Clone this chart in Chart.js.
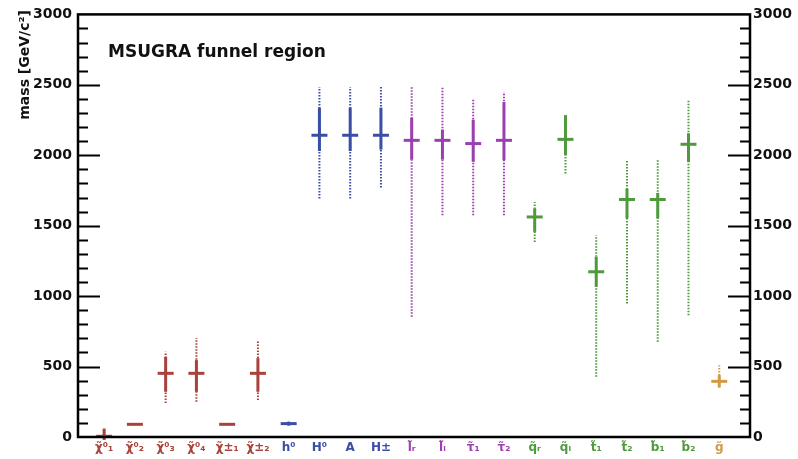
<!DOCTYPE html>
<html><head><meta charset="utf-8">
<script src="https://cdn.jsdelivr.net/npm/chart.js@4/dist/chart.umd.min.js"></script>
<style>html,body{margin:0;padding:0;background:#fff}#wrap{width:798px;height:459px;position:relative}</style>
</head><body><div id="wrap"><canvas id="c" width="798" height="459"></canvas></div>
<script>
// ---- data ----
const particles = ['χ̃⁰₁','χ̃⁰₂','χ̃⁰₃','χ̃⁰₄','χ̃±₁','χ̃±₂','h⁰','H⁰','A','H±','l̃ᵣ','l̃ₗ','τ̃₁','τ̃₂','q̃ᵣ','q̃ₗ','t̃₁','t̃₂','b̃₁','b̃₂','g̃'];
const groups = ['chi','chi','chi','chi','chi','chi','higgs','higgs','higgs','higgs','slep','slep','slep','slep','sq','sq','sq','sq','sq','sq','glu'];
const massCentral = [5, 90, 452, 452, 90, 452, 95, 2142, 2142, 2142, 2106, 2106, 2083, 2106, 1562, 2113, 1173, 1686, 1686, 2078, 395];
const innerLow    = [-20, 88, 321, 321, 88, 321, 82, 2030, 2030, 2040, 1969, 1969, 1953, 1965, 1456, 2000, 1066, 1551, 1551, 1953, 352];
const innerHigh   = [60, 92, 569, 546, 92, 560, 108, 2338, 2338, 2338, 2267, 2182, 2253, 2378, 1622, 2284, 1279, 1764, 1733, 2156, 440];
const outerLow    = [-20, 88, 241, 250, 88, 262, 82, 1693, 1693, 1771, 853, 1574, 1574, 1574, 1385, 1870, 428, 948, 676, 865, 352];
const outerHigh   = [60, 92, 605, 702, 92, 688, 108, 2484, 2484, 2484, 2484, 2484, 2395, 2449, 1669, 2290, 1433, 1969, 1969, 2390, 510];
const yTickValues = [0, 500, 1000, 1500, 2000, 2500, 3000];
const chartTitle = 'MSUGRA funnel region';
const yTitle = 'mass [GeV/c²]';

const groupColor = {chi:'#a8423a', higgs:'#3a4ea6', slep:'#9c3fb0', sq:'#4f9a3c', glu:'#d39a45'};
const colors = groups.map(g => groupColor[g]);

const datasets = [];
particles.forEach((p, i) => {
  const c = colors[i];
  datasets.push({data:[{x:i,y:outerLow[i]},{x:i,y:outerHigh[i]}], showLine:true, borderColor:c, borderWidth:2, borderDash:[1.5,1.5], pointRadius:0, clip:false});
  datasets.push({data:[{x:i,y:innerLow[i]},{x:i,y:innerHigh[i]}], showLine:true, borderColor:c, borderWidth:3, pointRadius:0, clip:false});
  datasets.push({data:[{x:i,y:massCentral[i]}], pointStyle:'line', pointRadius:8, pointBorderWidth:3, pointBorderColor:c, borderColor:c, backgroundColor:c, clip:false});
});

const framePlugin = {
  id:'frame',
  afterDraw(chart){
    const ctx = chart.ctx, a = chart.chartArea, y = chart.scales.y;
    ctx.save();
    ctx.strokeStyle = '#000';
    ctx.lineWidth = 2;
    for (let v = 100; v < 3000; v += 100) {
      const py = Math.round(y.getPixelForValue(v)) + 0.5;
      const len = v % 500 === 0 ? 22 : 10;
      ctx.beginPath();
      ctx.moveTo(a.left, py); ctx.lineTo(a.left + len, py);
      ctx.moveTo(a.right, py); ctx.lineTo(a.right - len, py);
      ctx.stroke();
    }
    ctx.lineWidth = 2.5;
    ctx.strokeRect(a.left, a.top, a.right - a.left, a.bottom - a.top);
    ctx.fillStyle = '#111';
    ctx.font = 'bold 17px "DejaVu Sans"';
    ctx.textAlign = 'left'; ctx.textBaseline = 'alphabetic';
    ctx.fillText(chartTitle, 108, 57);
    ctx.translate(25, 10);
    ctx.rotate(-Math.PI/2);
    ctx.font = 'bold 14px "DejaVu Sans"';
    ctx.textAlign = 'right'; ctx.textBaseline = 'middle';
    ctx.fillText(yTitle, 0, 0);
    ctx.restore();
  }
};

const yCommon = {
  type:'linear', min:0, max:3000,
  grid:{display:false, drawTicks:false}, border:{display:false},
  afterBuildTicks: s => { s.ticks = yTickValues.map(v => ({value:v})); },
};

new Chart(document.getElementById('c'), {
  type:'scatter',
  data:{datasets},
  options:{
    responsive:false, animation:false, devicePixelRatio:1,
    events:[],
    layout:{padding:{top:14, left:0, right:0, bottom:0}},
    plugins:{legend:{display:false}, tooltip:{enabled:false}},
    scales:{
      x:{type:'linear', min:-0.85, max:21, position:'bottom',
         grid:{display:false, drawTicks:false}, border:{display:false},
         afterBuildTicks: s => { s.ticks = particles.map((_, i) => ({value:i})); },
         afterFit: s => { s.height = 22; },
         ticks:{autoSkip:false, maxRotation:0, padding:4,
                callback:(v) => particles[v],
                color: ctx => colors[ctx.index],
                font:{family:'DejaVu Sans', size:12, weight:'bold'}}},
      y:Object.assign({}, yCommon, {position:'left',
         afterFit: s => { s.width = 78; },
         ticks:{padding:6, color:'#111', callback:v => String(v), font:{family:'DejaVu Sans', size:14, weight:'bold'}}}),
      y2:Object.assign({}, yCommon, {position:'right',
         afterFit: s => { s.width = 48; },
         ticks:{padding:3, color:'#111', callback:v => String(v), font:{family:'DejaVu Sans', size:14, weight:'bold'}}})
    }
  },
  plugins:[framePlugin]
});
</script></body></html>
